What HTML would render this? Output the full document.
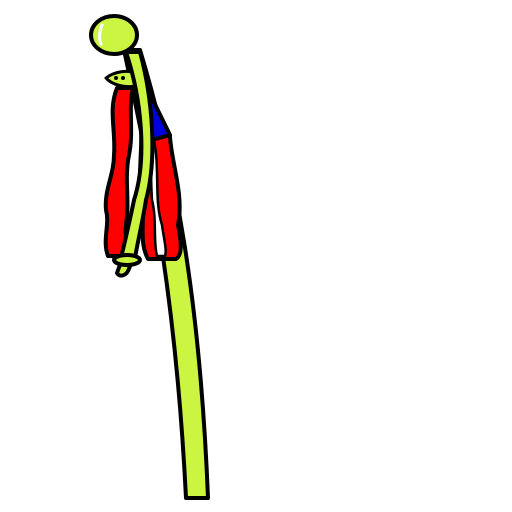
<!DOCTYPE html>
<html><head><meta charset="utf-8"><style>html,body{margin:0;padding:0;background:#fff;width:512px;height:512px;overflow:hidden}</style></head>
<body>
<svg width="512" height="512" viewBox="0 0 512 512" xmlns="http://www.w3.org/2000/svg" stroke="#000" stroke-width="4" stroke-linejoin="round" stroke-linecap="round">
  <path d="M124,50 C152,180 176,300 186,498 L208,498 C200,300 176,170 140,50 Z" fill="#ccf542"/>
  <path d="M144,88 L170,137 C172,165 184,195 178,225 C182,245 182,255 176,259 L148,259 C138,240 146,220 141,200 C137,170 146,130 138,92 Z" fill="#ff0000"/>
  <path d="M154,140 C160,170 154,200 162,225 C164,240 167,250 165,256 L157,256 C153,240 157,220 152,200 C150,170 152,150 150,140 Z" fill="#ffffff" stroke-width="2.5"/>
  <path d="M146,86 L170,135 L152,140 C150,125 148,110 141,92 Z" fill="#0000dd"/>
  <path d="M117,88 L133,88 C128,110 134,130 129,155 C124,180 130,200 126,225 C124,240 130,250 132,256 L108,256 C102,240 110,225 106,210 C104,190 114,175 114,155 C116,130 108,110 117,88 Z" fill="#ff0000"/>
  <path d="M106,78 C115,71 128,70 135,73 L136,86 C125,88 112,85 106,78 Z" fill="#ccf542" stroke-width="3"/>
  <circle cx="116" cy="78" r="2" fill="#000" stroke="none"/>
  <circle cx="123" cy="78" r="2" fill="#000" stroke="none"/>
  <path d="M126,52 C142,100 147,160 134,200 C129,225 124,245 121,258 L135,258 C138,240 142,225 146,200 C157,160 153,100 140,52 Z" fill="#ccf542"/>
  <path d="M121,262 L117,273 C120,278 126,275 128,271 L132,262 Z" fill="#ccf542"/>
  <ellipse cx="127" cy="260" rx="13" ry="5" fill="#ccf542"/>
  <ellipse cx="114" cy="35" rx="23" ry="19" fill="#ccf542"/>
  <path d="M102,25 C99,32 99,40 101,44" fill="none" stroke="#fff" stroke-width="3"/>
</svg>
</body></html>
